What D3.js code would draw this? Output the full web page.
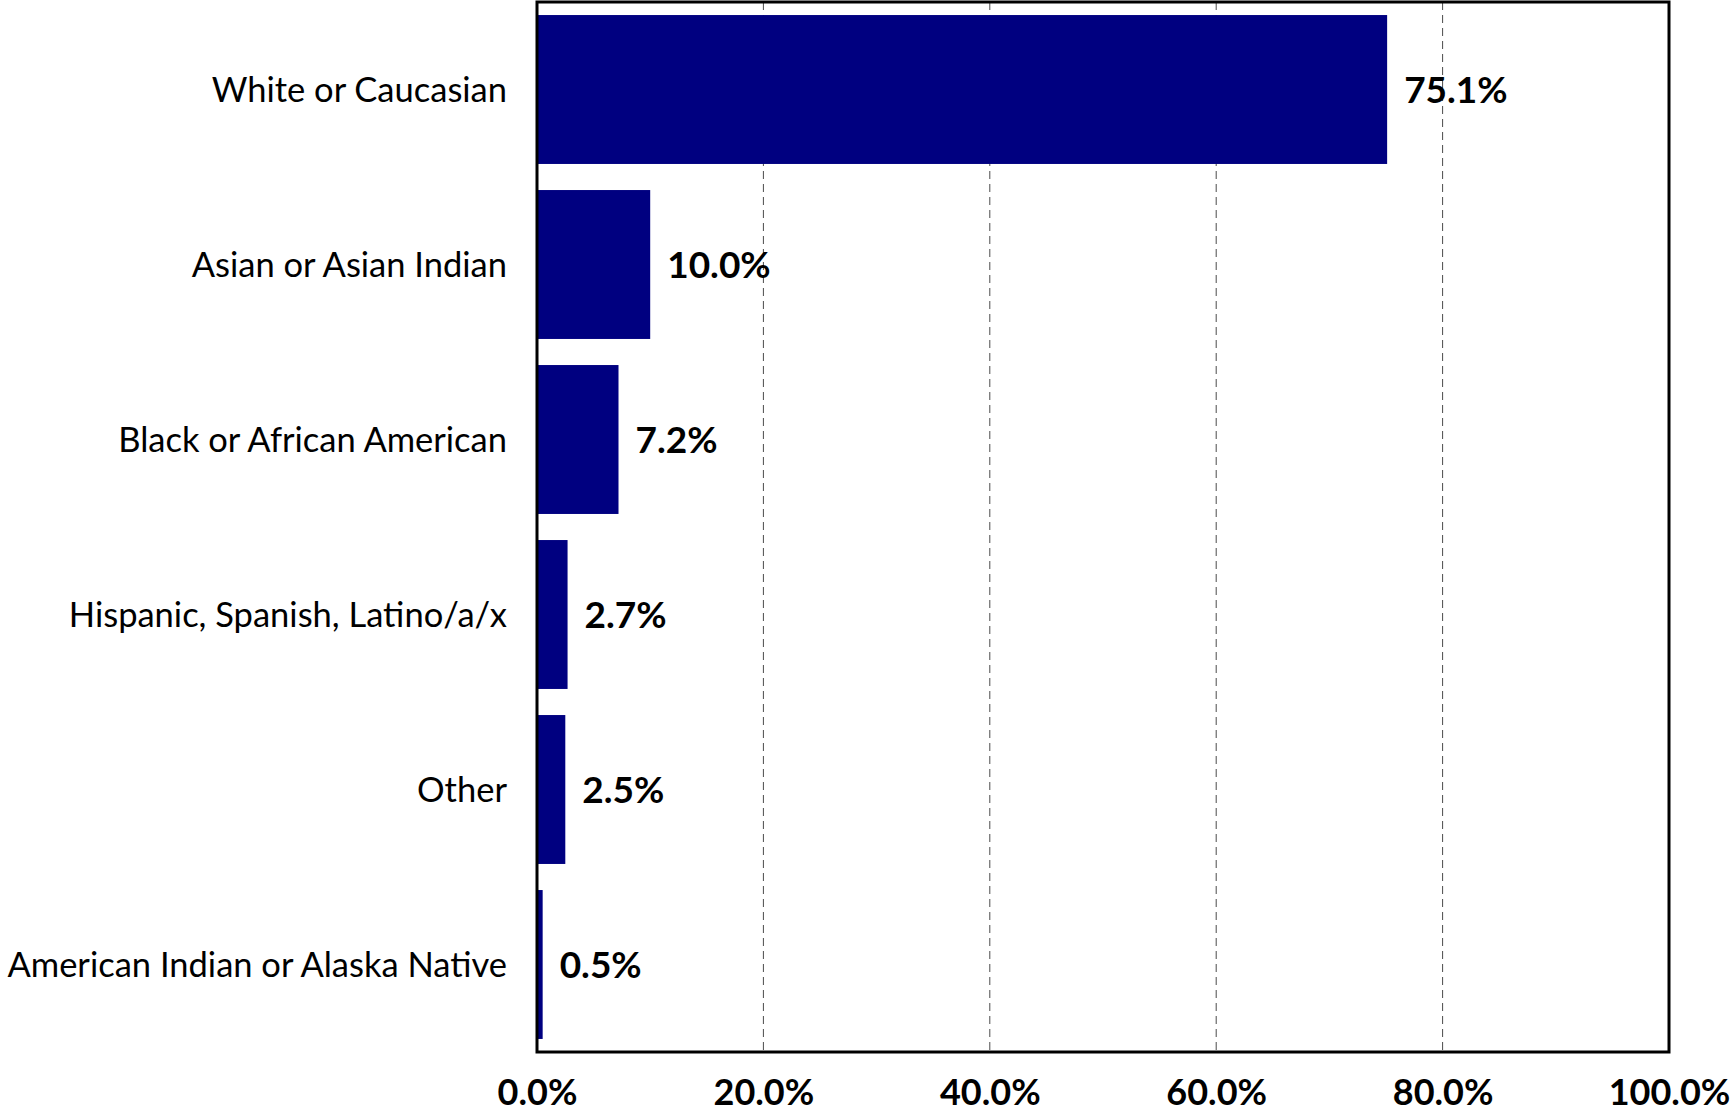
<!DOCTYPE html>
<html>
<head>
<meta charset="utf-8">
<script src="https://cdn.jsdelivr.net/npm/d3@7"></script>
<style>
  html, body { margin: 0; padding: 0; background: #fff; }
  svg { display: block; }
</style>
</head>
<body>
<svg id="chart" width="1735" height="1113"></svg>
<script>
// Race / ethnicity breakdown, share of respondents (%)
const categories = [
  "White or Caucasian",
  "Asian or Asian Indian",
  "Black or African American",
  "Hispanic, Spanish, Latino/a/x",
  "Other",
  "American Indian or Alaska Native"
];
const values = [75.1, 10.0, 7.2, 2.7, 2.5, 0.5];
const tickValues = [0, 20, 40, 60, 80, 100];
const tickLabels = ["0.0%", "20.0%", "40.0%", "60.0%", "80.0%", "100.0%"];
const gridValues = [20, 40, 60, 80];

const data = categories.map((c, i) => ({ category: c, value: values[i] }));

const svg = d3.select("#chart");
const plot = { left: 537, right: 1669, top: 2, bottom: 1052 };

const x = d3.scaleLinear().domain([0, 100]).range([plot.left, plot.right]);
const y = d3.scaleBand()
  .domain(categories)
  .range([plot.top, plot.bottom])
  .paddingInner(0.149)
  .paddingOuter(0.0745);

// dashed vertical gridlines
svg.append("g")
  .selectAll("line")
  .data(gridValues)
  .join("line")
  .attr("x1", d => x(d)).attr("x2", d => x(d))
  .attr("y1", plot.top).attr("y2", plot.bottom)
  .attr("stroke", "#4a4a4a")
  .attr("stroke-width", 1)
  .attr("stroke-dasharray", "8,5");

// bars
svg.append("g")
  .selectAll("rect")
  .data(data)
  .join("rect")
  .attr("x", x(0))
  .attr("y", d => y(d.category))
  .attr("width", d => x(d.value) - x(0))
  .attr("height", y.bandwidth())
  .attr("fill", "#000080");

// value labels
svg.append("g")
  .selectAll("text")
  .data(data)
  .join("text")
  .attr("x", d => x(d.value) + 17)
  .attr("y", d => y(d.category) + y.bandwidth() / 2)
  .attr("dy", "0.36em")
  .attr("font-family", "Lato, 'Open Sans', sans-serif")
  .attr("font-weight", "bold")
  .attr("font-size", 37)
  .attr("fill", "#000")
  .text(d => d.value.toFixed(1) + "%");

// category axis
const yAxis = svg.append("g")
  .attr("transform", `translate(${plot.left},0)`)
  .call(d3.axisLeft(y).tickSize(0).tickPadding(30));
yAxis.select(".domain").remove();
yAxis.selectAll("text")
  .attr("dy", "0.36em")
  .attr("font-family", "Lato, 'Open Sans', sans-serif")
  .attr("font-size", 34.5)
  .attr("fill", "#000");

// value axis
const xAxis = svg.append("g")
  .attr("transform", `translate(0,${plot.bottom})`)
  .call(d3.axisBottom(x)
    .tickValues(tickValues)
    .tickFormat((d, i) => tickLabels[i])
    .tickSize(0));
xAxis.select(".domain").remove();
xAxis.selectAll("text")
  .attr("y", 53)
  .attr("dy", 0)
  .attr("font-family", "Lato, 'Open Sans', sans-serif")
  .attr("font-weight", "bold")
  .attr("font-size", 36)
  .attr("fill", "#000");

// plot frame
svg.append("rect")
  .attr("x", plot.left)
  .attr("y", plot.top)
  .attr("width", plot.right - plot.left)
  .attr("height", plot.bottom - plot.top)
  .attr("fill", "none")
  .attr("stroke", "#000")
  .attr("stroke-width", 3);
</script>
</body>
</html>
